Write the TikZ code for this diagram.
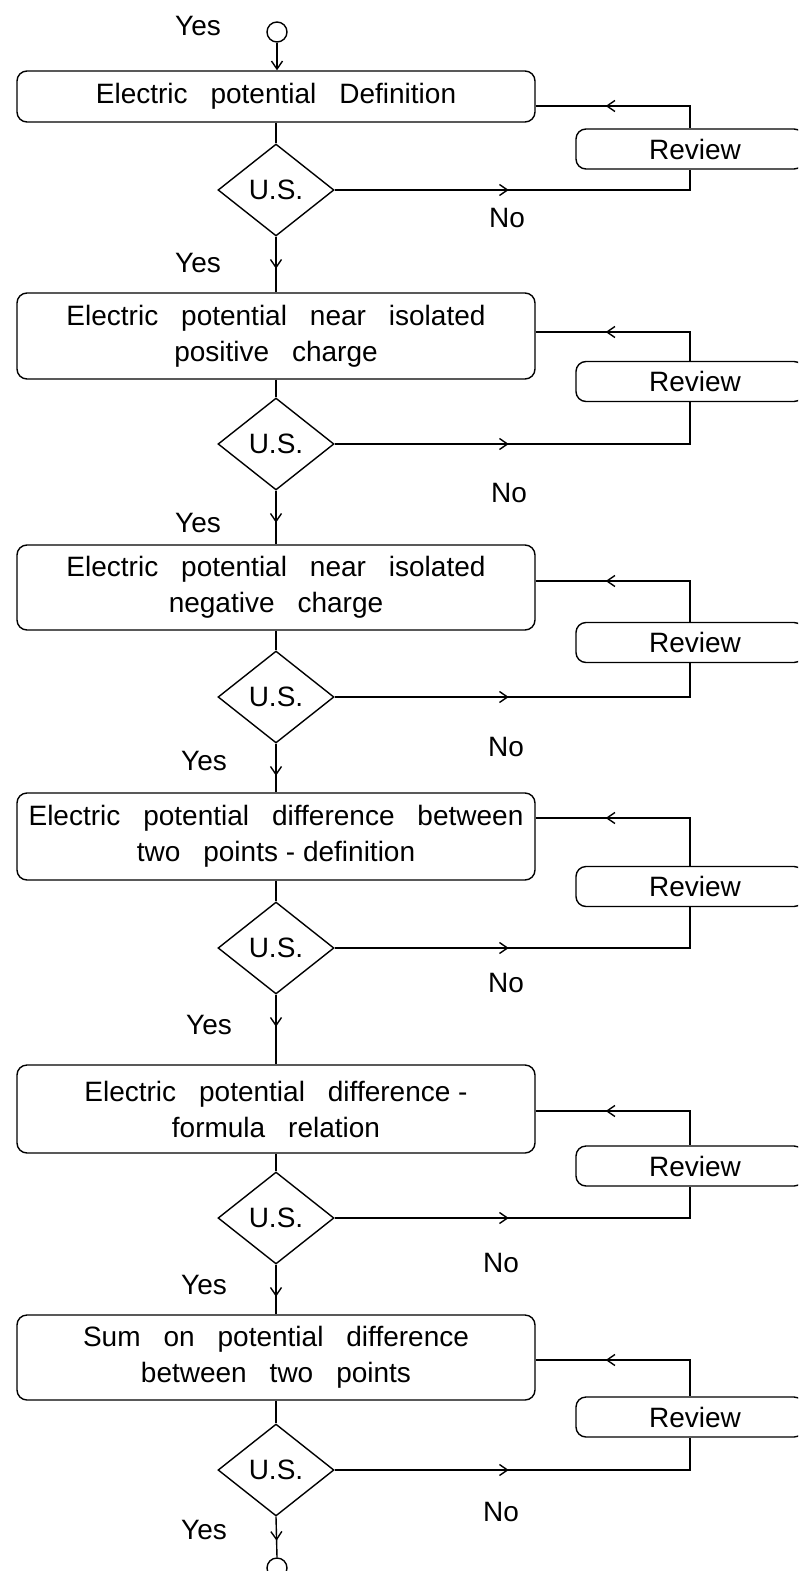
\documentclass[tikz,border=0pt]{standalone}
\usepackage{fontspec}
\setmainfont{Liberation Sans}[WordSpace=2.95]
\usetikzlibrary{shapes.geometric,arrows.meta,decorations.markings}
\begin{document}
\begin{tikzpicture}[x=1pt,y=-1pt,
  font=\fontsize{28}{36}\selectfont,
  line width=1.4pt,
  ch/.tip={Straight Barb[length=8pt,width=11pt,line width=1.4pt]},
  stage/.style={draw, rounded corners=10pt, minimum width=518pt, align=center, inner sep=0pt},
  rev/.style={draw, rounded corners=10pt, minimum width=228pt, minimum height=40pt, inner sep=0pt},
  us/.style={draw, diamond, minimum width=116pt, minimum height=92pt, inner sep=0pt},
  lbl/.style={inner sep=0pt},
  circ/.style={draw, circle, minimum size=20pt, inner sep=0pt},
  midarrow/.style={postaction={decorate}, decoration={markings, mark=at position #1 with {\arrow{ch}}}},
  backarrow/.style={postaction={decorate}, decoration={markings, mark=at position #1 with {\arrowreversed{ch}}}},
]
\useasboundingbox (0,0) rectangle (798,1571);
\clip (0,0) rectangle (798,1571);
\newcommand{\hy}{\hspace{0.28em}-\hspace{0.28em}}

% start
\node[circ] (s) at (277,32) {};
\node[lbl] (y0) at (198,26) {Yes};

% stage 1
\node[stage, minimum height=51pt] (b1) at (276,96.5) {Electric potential Definition};
\node[rev] (r1) at (690,149) {\hspace*{10pt}Review};
\node[us] (d1) at (276,190) {U.S.};
\node[lbl] (n1) at (507,218) {No};
\node[lbl] (y1) at (198,263) {Yes};

% stage 2
\node[stage, minimum height=86pt] (b2) at (276,336) {Electric potential near isolated\\positive charge};
\node[rev] (r2) at (690,381.5) {\hspace*{10pt}Review};
\node[us] (d2) at (276,444) {U.S.};
\node[lbl] (n2) at (509,493) {No};
\node[lbl] (y2) at (198,523) {Yes};

% stage 3
\node[stage, minimum height=85pt] (b3) at (276,587.5) {Electric potential near isolated\\negative charge};
\node[rev] (r3) at (690,642.5) {\hspace*{10pt}Review};
\node[us] (d3) at (276,697) {U.S.};
\node[lbl] (n3) at (506,747) {No};
\node[lbl] (y3) at (204,761) {Yes};

% stage 4
\node[stage, minimum height=87pt] (b4) at (276,836.5) {Electric potential difference between\\two points\hy definition};
\node[rev] (r4) at (690,886.5) {\hspace*{10pt}Review};
\node[us] (d4) at (276,948) {U.S.};
\node[lbl] (n4) at (506,983) {No};
\node[lbl] (y4) at (209,1025) {Yes};

% stage 5
\node[stage, minimum height=88pt] (b5) at (276,1109) {Electric potential difference\hspace{0.28em}-\\formula relation};
\node[rev] (r5) at (690,1166) {\hspace*{10pt}Review};
\node[us] (d5) at (276,1218) {U.S.};
\node[lbl] (n5) at (501,1263) {No};
\node[lbl] (y5) at (204,1285) {Yes};

% stage 6
\node[stage, minimum height=85pt] (b6) at (276,1357.5) {Sum on potential difference\\between two points};
\node[rev] (r6) at (690,1417) {\hspace*{10pt}Review};
\node[us] (d6) at (276,1470) {U.S.};
\node[lbl] (n6) at (501,1512) {No};
\node[lbl] (y6) at (204,1530) {Yes};

% end
\node[circ] (e) at (277,1568) {};

% connectors
\draw[-ch] (s.south) -- (s.south |- b1.north);
\draw (b1) -- (d1);
\draw (b2) -- (d2);
\draw (b3) -- (d3);
\draw (b4) -- (d4);
\draw (b5) -- (d5);
\draw (b6) -- (d6);

\draw[midarrow=32pt] (d1.south) -- (b2.north);
\draw[midarrow=32pt] (d2.south) -- (b3.north);
\draw[midarrow=32pt] (d3.south) -- (b4.north);
\draw[midarrow=32pt] (d4.south) -- (b5.north);
\draw[midarrow=32pt] (d5.south) -- (b6.north);
\draw[midarrow=24pt] (d6.south) -- (e.north);

\draw[midarrow=174pt] (d1.east) -| (r1.south);
\draw[midarrow=174pt] (d2.east) -| (r2.south);
\draw[midarrow=174pt] (d3.east) -| (r3.south);
\draw[midarrow=174pt] (d4.east) -| (r4.south);
\draw[midarrow=174pt] (d5.east) -| (r5.south);
\draw[midarrow=174pt] (d6.east) -| (r6.south);

\draw[backarrow=70pt] ([yshift=-9.5pt]b1.east) -| (r1.north);
\draw[backarrow=70pt] ([yshift=4pt]b2.east) -| (r2.north);
\draw[backarrow=70pt] ([yshift=6.5pt]b3.east) -| (r3.north);
\draw[backarrow=70pt] ([yshift=18.5pt]b4.east) -| (r4.north);
\draw[backarrow=70pt] ([yshift=-2pt]b5.east) -| (r5.north);
\draw[backarrow=70pt] ([yshift=-2.5pt]b6.east) -| (r6.north);
\end{tikzpicture}
\end{document}
